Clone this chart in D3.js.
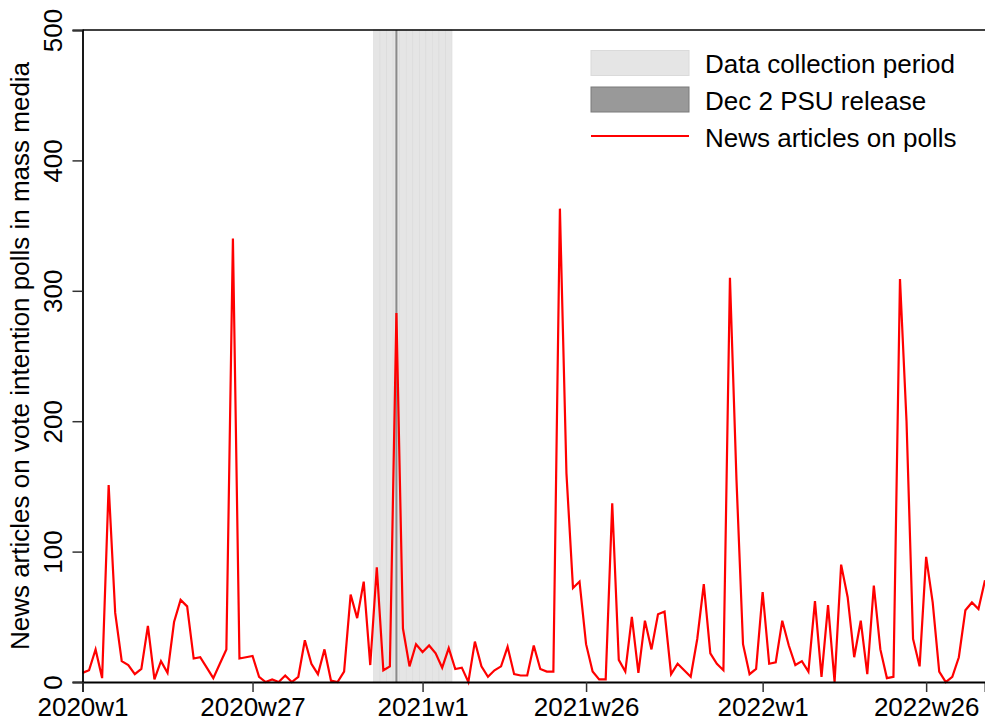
<!DOCTYPE html>
<html>
<head>
<meta charset="utf-8">
<script src="https://cdn.jsdelivr.net/npm/d3@7"></script>
<style>
  html, body { margin: 0; padding: 0; background: #fff; }
  svg { display: block; font-family: "Liberation Sans", Arial, Helvetica, sans-serif; }
</style>
</head>
<body>
<svg id="chart" width="985" height="724"></svg>
<script>
// Weekly counts of news articles on vote intention polls (index 0 = 2020w1)
const articles = [
  7, 9, 25, 3, 151, 53, 16, 13, 6, 10,
  43, 2, 16, 7, 46, 63, 58, 18, 19, 11,
  3, 14, 25, 340, 18, 19, 20, 4, 0, 2,
  0, 5, 0, 4, 32, 14, 6, 25, 1, 0,
  8, 67, 49, 77, 13, 88, 9, 12, 283, 41,
  12, 29, 23, 28, 22, 11, 26, 10, 11, 0,
  31, 12, 4, 9, 12, 27, 6, 5, 5, 28,
  10, 8, 8, 363, 160, 72, 77, 29, 8, 2,
  2, 137, 17, 8, 50, 7, 47, 25, 52, 54,
  6, 14, 9, 4, 33, 75, 22, 14, 9, 310,
  155, 29, 6, 10, 69, 14, 15, 47, 28, 13,
  16, 8, 62, 4, 59, 0, 90, 65, 19, 47,
  6, 74, 25, 3, 4, 309, 200, 33, 12, 96,
  61, 8, 0, 4, 19, 55, 61, 56, 78
];
// Data collection period weeks (index) and PSU release week (index)
const collectionWeeks = [45, 46, 47, 48, 49, 50, 51, 52, 53, 54, 55, 56];
const psuWeek = [48];
// X axis ticks (week index) and labels
const xTickWeeks = [0, 26, 52, 77, 104, 129];
const xTickLabels = ["2020w1", "2020w27", "2021w1", "2021w26", "2022w1", "2022w26"];
const yTicks = [0, 100, 200, 300, 400, 500];
const legendLabels = ["Data collection period", "Dec 2 PSU release", "News articles on polls"];
const yTitle = "News articles on vote intention polls in mass media";

(function () {
const svg = d3.select("#chart");
const pLeft = 82.5, pRight = 985, pTop = 30, pBottom = 682;
const fs = 26;

const x = d3.scaleLinear().domain([0, articles.length - 1]).range([pLeft, pRight]);
const y = d3.scaleLinear().domain([0, 500]).range([pBottom, pTop]);
const wk = x(1) - x(0);

// Collection period bars
svg.append("g").selectAll("rect").data(collectionWeeks).join("rect")
  .attr("x", d => x(d - 0.5))
  .attr("y", y(500))
  .attr("width", wk)
  .attr("height", y(0) - y(500))
  .attr("fill", "#e5e5e5")
  .attr("stroke", "#dadada")
  .attr("stroke-width", 0.6);

// PSU release bar
svg.append("g").selectAll("rect").data(psuWeek).join("rect")
  .attr("x", d => x(d) - 1)
  .attr("y", y(500))
  .attr("width", 2)
  .attr("height", y(0) - y(500))
  .attr("fill", "#8a8a8a");

// Line
const line = d3.line().x((d, i) => x(i)).y(d => y(d));
svg.append("path")
  .datum(articles)
  .attr("d", line)
  .attr("fill", "none")
  .attr("stroke", "#ff0000")
  .attr("stroke-width", 2.2)
  .attr("stroke-linejoin", "miter");

// Frame line (top)
svg.append("line").attr("x1", pLeft).attr("x2", pRight).attr("y1", pTop).attr("y2", pTop)
  .attr("stroke", "#000").attr("stroke-width", 1.5);

// Y axis
const yAxis = d3.axisLeft(y).tickValues(yTicks).tickSize(10).tickPadding(0).tickFormat(d3.format("d"));
const gy = svg.append("g").attr("transform", `translate(${pLeft},0)`).call(yAxis);
gy.select(".domain").attr("stroke", "#000").attr("stroke-width", 1.8);
gy.selectAll(".tick line").attr("stroke", "#333").attr("stroke-width", 1.5);
gy.selectAll(".tick text")
  .attr("font-size", fs)
  .attr("fill", "#000")
  .attr("text-anchor", "middle")
  .attr("x", 0).attr("y", 0).attr("dy", 0)
  .attr("transform", "translate(-21,0) rotate(-90)");

// X axis
const xAxis = d3.axisBottom(x).tickValues(xTickWeeks).tickSize(10).tickPadding(5)
  .tickFormat((d, i) => xTickLabels[i]);
const gx = svg.append("g").attr("transform", `translate(0,${pBottom})`).call(xAxis);
gx.select(".domain").attr("stroke", "#000").attr("stroke-width", 1.8);
gx.selectAll(".tick line").attr("stroke", "#333").attr("stroke-width", 1.5);
gx.selectAll(".tick text").attr("font-size", fs).attr("fill", "#000").attr("dy", "0.72em");

// Y title
svg.append("text")
  .attr("transform", `translate(29,${(pTop + pBottom) / 2}) rotate(-90)`)
  .attr("text-anchor", "middle")
  .attr("font-size", fs)
  .attr("fill", "#000")
  .text(yTitle);

// Legend
const lg = svg.append("g");
const lx = 591, lw = 98;
lg.append("rect").attr("x", lx).attr("y", 50.5).attr("width", lw).attr("height", 25)
  .attr("fill", "#e5e5e5").attr("stroke", "#dadada");
lg.append("rect").attr("x", lx).attr("y", 87).attr("width", lw).attr("height", 25)
  .attr("fill", "#999999").attr("stroke", "#7a7a7a");
lg.append("line").attr("x1", lx).attr("x2", lx + lw).attr("y1", 136).attr("y2", 136)
  .attr("stroke", "#ff0000").attr("stroke-width", 2);
lg.selectAll("text.leg").data(legendLabels).join("text")
  .attr("class", "leg")
  .attr("x", 705)
  .attr("y", (d, i) => 73 + i * 37)
  .attr("font-size", fs)
  .attr("fill", "#000")
  .text(d => d);
})();
</script>
</body>
</html>
